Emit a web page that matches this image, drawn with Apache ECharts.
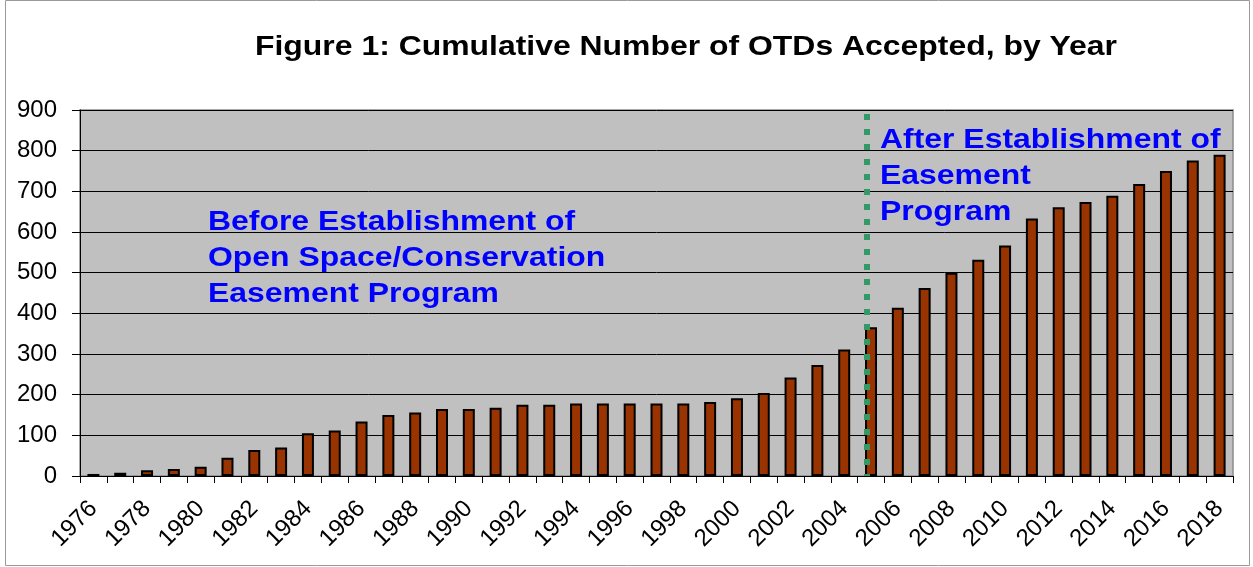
<!DOCTYPE html>
<html>
<head>
<meta charset="utf-8">
<script src="https://cdn.jsdelivr.net/npm/echarts@6/dist/echarts.min.js"></script>
<style>
html,body{margin:0;padding:0;background:#fff;}
#main{width:1253px;height:567px;}
</style>
</head>
<body>
<div id="main"></div>
<script>
const years = ['1976','1977','1978','1979','1980','1981','1982','1983','1984','1985','1986','1987','1988','1989','1990','1991','1992','1993','1994','1995','1996','1997','1998','1999','2000','2001','2002','2003','2004','2005','2006','2007','2008','2009','2010','2011','2012','2013','2014','2015','2016','2017','2018'];
const cumulativeOTDs = [5,8,14,17,23,45,64,70,105,112,134,150,156,165,165,168,175,175,178,178,178,178,178,182,191,204,242,273,311,366,414,462,500,532,567,633,661,674,689,718,750,776,790];
const yTicks = {min:0, max:900, interval:100};
const programYear = '2005';
const titleText = 'Figure 1: Cumulative Number of OTDs Accepted, by Year';
const beforeText = 'Before Establishment of\nOpen Space/Conservation\nEasement Program';
const afterText = 'After Establishment of\nEasement\nProgram';

(function(){
const chart = echarts.init(document.getElementById('main'), null, {renderer:'canvas'});
const FONT = 'Liberation Sans, Arial, sans-serif';
const STRETCH = 1.14;
const option = {
  animation:false,
  backgroundColor:'#ffffff',
  grid:{left:80, right:20, top:110, bottom:91, show:true, backgroundColor:'#c0c0c0', borderColor:'#8c8c8c', borderWidth:1.5},
  xAxis:{
    type:'category', data:years, boundaryGap:true,
    axisLine:{lineStyle:{color:'#000', width:1}},
    axisTick:{show:true, interval:0, alignWithLabel:false, length:7, lineStyle:{color:'#000'}},
    axisLabel:{interval:1, rotate:45, fontFamily:FONT, fontSize:24, color:'#000', margin:29}
  },
  yAxis:{
    type:'value', min:yTicks.min, max:yTicks.max, interval:yTicks.interval,
    axisLine:{show:true, lineStyle:{color:'#000', width:1}},
    axisTick:{show:true, length:8, lineStyle:{color:'#000'}},
    axisLabel:{fontFamily:FONT, fontSize:24, color:'#000', margin:23},
    splitLine:{show:true, lineStyle:{color:'#000', width:1}}
  },
  series:[{
    type:'bar', data:cumulativeOTDs, barWidth:12,
    itemStyle:{color:'#993300', borderColor:'#000', borderWidth:2}
  }]
};
chart.setOption(option);

const yTop = chart.convertToPixel({yAxisIndex:0}, yTicks.max);
const yBot = chart.convertToPixel({yAxisIndex:0}, yTicks.min);
const cx = chart.convertToPixel({xAxisIndex:0}, programYear);
const lx = Math.round(cx - 6 + 2);
const textStyleBase = {fontFamily:FONT, fontWeight:'bold', fontSize:28, fill:'#0000ff', lineHeight:36};
chart.setOption({
  graphic:[
    {type:'rect', shape:{x:5.5, y:0.5, width:1244, height:565}, style:{fill:null, stroke:'#9a9a9a', lineWidth:1}, silent:true, z:-10},
    {type:'text', x:686, y:33, scaleX:STRETCH, style:{text:titleText, fontFamily:FONT, fontWeight:'bold', fontSize:28, fill:'#000', align:'center', verticalAlign:'top', lineHeight:28}},
    {type:'line', shape:{x1:lx, y1:yTop + 4, x2:lx, y2:yBot}, style:{stroke:'#339966', lineWidth:6, lineDash:[6,9]}, z:100},
    {type:'text', x:208, y:204, scaleX:STRETCH, style:Object.assign({text:beforeText}, textStyleBase), z:100},
    {type:'text', x:880, y:122, scaleX:STRETCH, style:Object.assign({text:afterText}, textStyleBase), z:100}
  ]
});
})();
</script>
</body>
</html>
